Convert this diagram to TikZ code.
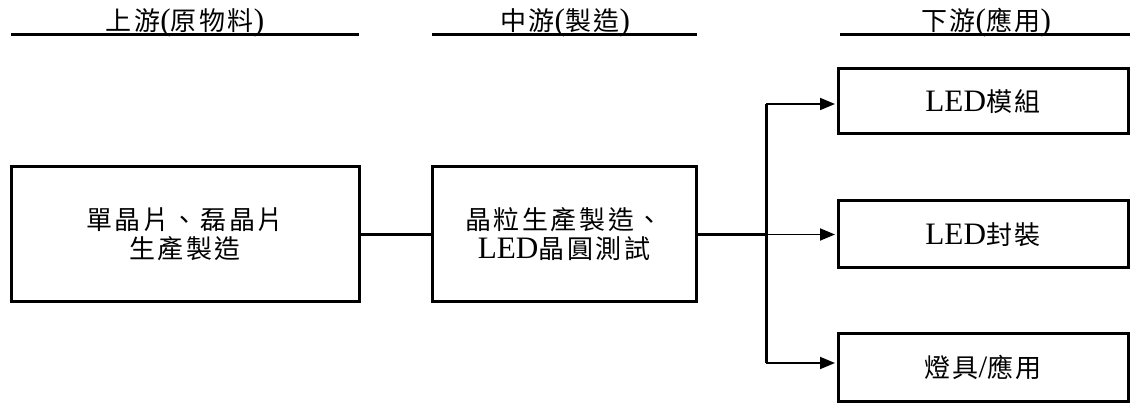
\documentclass[tikz,border=0pt]{standalone}
\usepackage{fontspec}
\setmainfont{Liberation Serif}[Scale=1.2]
\newfontfamily\cjk{Noto Sans CJK TC}[LetterSpace=10]
\usetikzlibrary{arrows.meta}
\tikzset{
  box/.style={draw, line width=3pt, inner sep=0pt, align=center,
    font=\fontsize{26}{29}\selectfont},
  head/.style={font=\fontsize{26}{29}\selectfont, anchor=base},
  rule/.style={line width=3pt},
  conn/.style={line width=2.2pt},
  arr/.style={line width=1.8pt, -{Triangle[length=15pt,width=12pt]}, shorten >=1.5pt},
}
\begin{document}
\begin{tikzpicture}[x=1pt,y=-1pt]
\useasboundingbox (0,0) rectangle (1130,403);
% headers
\node[head] (h1) at (185,31) {{\cjk 上游}({\cjk 原物料})};
\node[head] (h2) at (565,31) {{\cjk 中游}({\cjk 製造})};
\node[head] (h3) at (986,31) {{\cjk 下游}({\cjk 應用})};
\draw[rule] (11,35) -- (359,35);
\draw[rule] (432,35) -- (697,35);
\draw[rule] (840,35) -- (1130,35);
% boxes
\node[box, minimum width=348pt, minimum height=135pt] (a) at (185,234.5)
  {{\cjk 單晶片、磊晶片}\\{\cjk 生產製造}};
\node[box, minimum width=264pt, minimum height=135pt] (b) at (564,234.5)
  {{\cjk 晶粒生產製造、}\\LED{\cjk 晶圓測試}};
\node[box, minimum width=290pt, minimum height=65pt] (c) at (983,101.5)
  {LED{\cjk 模組}};
\node[box, minimum width=290pt, minimum height=67pt] (d) at (983,234.5)
  {LED{\cjk 封裝}};
\node[box, minimum width=290pt, minimum height=67pt] (e) at (983,367.5)
  {{\cjk 燈具}/{\cjk 應用}};
% connectors
\coordinate (t1) at (766,104);
\coordinate (t2) at (766,234.5);
\coordinate (t3) at (766,363);
\draw[conn] (a.east) -- (b.west);
\draw[conn] (b.east) -- (t2);
\draw[line width=3pt] (t1) -- (t3);
\draw[arr] (t1) -- (c.west |- t1);
\draw[arr] (t2) -- (d.west);
\draw[arr] (t3) -- (e.west |- t3);
\end{tikzpicture}
\end{document}
